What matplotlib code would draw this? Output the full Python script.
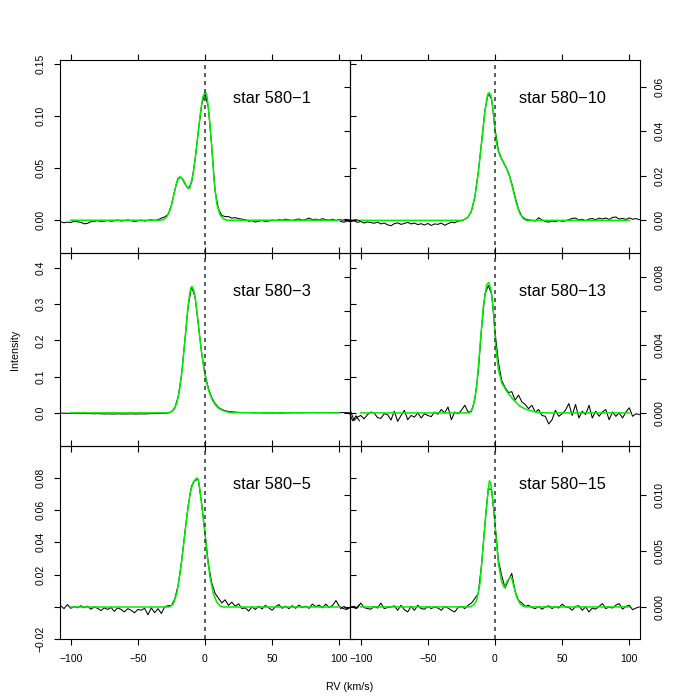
import numpy as np
import matplotlib
matplotlib.use('Agg')
import matplotlib.pyplot as plt

plt.rcParams['font.family'] = ['Liberation Sans', 'DejaVu Sans']

# Panel order: row by row (left column, right column)
star_names = ['star 580\u22121', 'star 580\u221210',
              'star 580\u22123', 'star 580\u221213',
              'star 580\u22125', 'star 580\u221215']

# Intensity units used in the lists below (values are multiplied by this)
units = [1e-3, 1e-3, 1e-2, 1e-4, 1e-3, 1e-4]

# RV grid of the observed profiles (km/s), 2.5 km/s steps
rv_left = np.arange(-107.5, 115.01, 2.5)
rv_right = np.arange(-115.0, 107.51, 2.5)

# ---- observed profiles (black) ----
obs_1 = [-1.5, -2.5, -1.8, -2.2, -1.0, -1.5, -2.0, -3.5, -3.0, -1.5,
         -1.0, -0.5, -1.2, -0.8, -0.3, -1.0, -0.6, 0.2, -0.8, -0.4,
         0.3, -0.5, -1.2, -0.6, 0.0, -0.8, -0.2, 0.4, -0.3, 0.5,
         2.0, 3.2, 5.5, 14.5, 29, 40.5, 41, 35, 30.5, 36,
         57, 85, 111, 122, 108, 71, 28, 11, 4.5, 3.5,
         3.5, 2.0, 2.5, 1.5, 1.0, 0.5, -1.0, -0.5, -1.8, -1.0,
         -0.3, -1.2, -0.8, 0.2, -0.5, 0.5, 0.0, 1.0, 0.3, -0.4,
         0.6, 1.2, 0.0, 0.8, 2.0, 0.5, 1.0, 0.2, 1.5, 0.5,
         0.0, 1.0, -0.3, 0.6, 0.0, 0.8, 0.3, 0.0, 0.5, -0.3]

obs_10 = [-0.5, -0.8, -0.3, -0.6, -0.2, -0.9, -0.5, -1.2, -0.7, -1.0,
          -1.3, -0.8, -1.6, -1.2, -2.0, -2.4, -1.5, -1.1, -1.8, -1.4,
          -0.9, -1.6, -1.2, -1.9, -1.5, -2.1, -1.4, -2.3, -1.6, -1.8,
          -1.2, -2.2, -1.5, -0.8, -1.1, -0.3, -0.2, 0.5, 1.5, 4.2,
          10.5, 21.5, 35, 49.5, 57, 54.5, 41, 31.5, 27.5, 24.5,
          21.5, 16.5, 10.5, 5.0, 1.8, 0.6, 0.2, 0.0, -0.3, 1.2,
          0.2, -0.5, -0.8, -0.3, -0.6, 0.0, -0.4, -0.2, 0.3, 0.9,
          1.0, 0.2, 0.5, -0.2, 0.6, 0.8, 0.3, 1.0, 0.6, 1.1,
          0.4, 1.3, 1.5, 0.6, 0.9, 0.4, 1.1, 0.5, 0.8, 0.3]

obs_3 = [-0.05, -0.1, -0.1, -0.15, -0.1, -0.15, -0.2, -0.15, -0.2, -0.2,
         -0.25, -0.2, -0.25, -0.3, -0.25, -0.3, -0.3, -0.25, -0.3, -0.3,
         -0.3, -0.25, -0.3, -0.3, -0.25, -0.3, -0.25, -0.2, -0.2, -0.15,
         -0.15, -0.1, -0.05, 0.3, 1.4, 4.4, 10.4, 19.9, 29.6, 34.8,
         32.1, 24.6, 16.5, 10.7, 6.8, 4.2, 2.6, 1.5, 0.95, 0.6,
         0.4, 0.3, 0.2, 0.15, 0.1, 0.1, 0.05, 0.05, 0.0, 0.05,
         0.0, -0.05, 0.0, -0.05, 0.0, -0.05, -0.05, 0.0, 0.0, 0.05,
         0.05, 0.0, 0.05, 0.1, 0.05, 0.1, 0.1, 0.05, 0.1, 0.1,
         0.1, 0.05, 0.1, 0.05, 0.1, 0.05, 0.05, -2.2, -0.8, -2.2]

obs_13 = [np.nan, np.nan, np.nan, 1.0, -4.5, -2.5, -1.5, -3.5, -1.0, 0.5,
          0.0, -2.8, -3.2, -0.5, -1.0, -4.2, 1.0, -5.0, -1.5, 1.5,
          -4.0, -1.5, -2.5, 0.0, -3.0, -0.5, -1.5, -2.2, 0.5, -0.8,
          2.0, 0.0, 3.5, -4.0, 0.5, -0.5, 1.5, 4.5, 0.5, 1.0,
          8, 24, 50, 70, 75, 70, 48, 30, 19, 15,
          12, 12.5, 7.5, 10.5, 6.5, 5.0, 2.5, 4.5, 0.5, 2.0,
          -1.5, -2.0, -6.5, -4.0, 1.5, -2.0, -0.5, 1.6, 5.5, -1.5,
          5.0, -3.0, 1.0, -1.0, 4.5, -3.0, 1.0, -2.0, 0.5, 2.0,
          -4.0, 0.5, -2.0, 0.0, -3.0, 0.5, 3.0, -2.0, -0.5, -1.0]

obs_5 = [0.8, -1.0, 1.5, -0.8, 0.3, -0.5, 0.8, -0.5, 0.5, -1.3,
         0.0, -0.8, -2.2, -0.5, -1.5, -0.3, -2.7, -0.5, -1.5, -3.0,
         -1.0, -2.0, -3.6, -1.5, -2.0, -0.8, -4.8, -0.5, -3.5, -1.0,
         -4.0, 0.2, 0.8, 1.0, 5.0, 13.5, 28, 46, 63, 75,
         78.5, 79, 64, 46, 27, 15, 8.5, 5.5, 2.5, 4.5,
         1.0, 3.0, 0.5, 2.0, -1.0, -0.5, -2.5, 0.0, -1.5, 0.5,
         -1.2, 1.0, -0.5, -2.0, 0.2, 1.5, -0.8, 0.5, -1.0, 0.8,
         -0.8, 1.2, -0.3, 0.5, -0.8, 1.8, 0.2, 1.2, -0.5, 1.8,
         -0.3, 1.0, 4.0, 0.5, -0.8, -1.5, -0.5, 0.0, -1.0, 1.5]

obs_15 = [-1.5, 0.5, -2.0, 0.0, 0.5, -1.0, 3.5, -0.5, -1.5, -2.0,
          0.5, -1.0, 3.5, -1.5, -0.5, 0.0, 1.0, -3.0, 1.5, -2.5,
          -4.5, 0.5, -3.0, 1.5, -1.5, -2.0, 0.5, -1.5, 0.0, -1.0,
          -3.0, 0.5, -1.0, -3.0, -4.5, -0.5, 0.5, -1.5, 1.5, 3.5,
          7.5, 12, 38, 74, 106, 105, 75, 42, 28, 17,
          24, 30, 14, 6, 3.5, 0.5, 1.5, -0.5, -1.5, 0.5,
          -2.0, 0.0, 1.0, -1.5, 0.5, -1.0, 2.5, 0.0, -0.5, -3.0,
          0.5, 1.0, -3.0, 0.0, -4.5, -1.0, -2.0, 0.5, 3.0, -1.5,
          0.0, -1.0, 1.5, 3.0, -2.0, 0.5, 1.5, -2.5, -1.0, 0.0]

# ---- fitted profiles (green) ----
fit_x_1 = [-100, -33, -31, -28.5, -26, -23.5, -21, -18.6, -16, -13.6, -11.5, -8.7, -6.2,
           -3.7, -1.7, 0.3, 1.5, 3.2, 5, 6.7, 8.7, 11.2, 13.6, 16, 100]
fit_y_1 = [0, 0, 0.6, 3.2, 9.7, 22.5, 37, 42, 38.5, 32, 30.3, 45, 71,
           100, 118, 123.5, 119, 100, 71, 39, 16, 5, 1.6, 0, 0]

fit_x_10 = [-100, -25, -22.5, -20, -17.5, -15, -12.5, -10, -7.5, -5.5, -4.2, -3, -1.5,
            0, 1, 2.5, 4, 6, 8.5, 11, 13.5, 16, 18.5, 21, 23.5, 100]
fit_y_10 = [0, 0, 0.5, 1.5, 4.5, 10.5, 21, 35, 49, 56.5, 57.3, 56, 50,
            41, 35, 31, 28.5, 26.5, 23.5, 19.5, 13.5, 7.5, 3, 0.8, 0, 0]

fit_x_3 = [-100, -28, -25, -23, -21, -19, -17, -15, -13, -11.5, -10.5, -9.7, -8.5, -7,
           -5.5, -4, -2.5, -1, 1, 3, 5, 7.5, 10, 13, 16, 20, 100]
fit_y_3 = [0, 0, 0.32, 1.0, 2.7, 6.2, 12.0, 19.9, 28.1, 32.7, 34.5, 34.9, 34.0, 31.2,
           26.3, 21.1, 16.5, 12.6, 8.6, 5.9, 3.9, 2.3, 1.3, 0.7, 0.3, 0.05, 0]

fit_x_13 = [-100, -19, -18.6, -16.1, -13.6, -11.2, -8.7, -6.2, -4.7, -3.2, -1.2,
            0.5, 2.5, 5, 8.7, 13.6, 18.6, 23.5, 31, 38, 100]
fit_y_13 = [0, 0, 0.3, 3.9, 15.6, 39, 62.7, 75.5, 76.8, 73.5, 61,
            39, 25.5, 17.6, 12.7, 7.8, 3.9, 2, 0.4, 0, 0]

fit_x_5 = [-100, -27, -26, -23.5, -21, -18.5, -16, -13.5, -11, -8.7, -6.2, -5,
           -3.7, -1.7, 0, 1.7, 3.7, 6.2, 8.7, 11.2, 13.6, 100]
fit_y_5 = [0, 0, 0.3, 2.1, 8.5, 21, 38, 56, 71, 77.4, 80, 79,
           72.3, 57.8, 45.4, 31, 18.6, 8.3, 3.1, 0.6, 0, 0]

fit_x_15 = [-100, -19, -16.1, -13.6, -11.2, -8.7, -6.2, -4.2, -3.2, -1.2, 0.7, 2.5,
            5, 7, 8.7, 11.2, 12.4, 14.1, 16.1, 18.6, 21.1, 23.5, 100]
fit_y_15 = [0, 0, 1.5, 6, 21, 56.5, 92, 113, 111, 92, 62.5, 39,
            22.3, 17.3, 22.3, 26.8, 26, 18, 9, 3, 0.6, 0, 0]

# ---- y axes ----
y_limits = [(-0.0316, 0.1539), (-0.0147, 0.072),
            (-0.092, 0.441), (-0.00196, 0.00941),
            (-0.02, 0.0996), (-0.0029, 0.0144)]
y_ticks = [[0, 0.05, 0.10, 0.15], [0, 0.02, 0.04, 0.06],
           [0, 0.1, 0.2, 0.3, 0.4], [0, 0.002, 0.004, 0.006, 0.008],
           [-0.02, 0, 0.02, 0.04, 0.06, 0.08], [0, 0.005, 0.010]]
y_ticklabels = [['0.00', '0.05', '0.10', '0.15'], ['0.00', '0.02', '0.04', '0.06'],
                ['0.0', '0.1', '0.2', '0.3', '0.4'], ['0.000', '', '0.004', '', '0.008'],
                ['\u22120.02', '', '0.02', '0.04', '0.06', '0.08'], ['0.000', '0.005', '0.010']]

x_ticks = [-100, -50, 0, 50, 100]

obs_all = [obs_1, obs_10, obs_3, obs_13, obs_5, obs_15]
fit_x_all = [fit_x_1, fit_x_10, fit_x_3, fit_x_13, fit_x_5, fit_x_15]
fit_y_all = [fit_y_1, fit_y_10, fit_y_3, fit_y_13, fit_y_5, fit_y_15]

fig = plt.figure(figsize=(7, 7), dpi=100)
gs = fig.add_gridspec(3, 2, left=60/700, right=640/700, bottom=1-639.3/700, top=1-60/700,
                      wspace=0, hspace=0)

for k in range(6):
    row, col = k // 2, k % 2
    ax = fig.add_subplot(gs[row, col])
    ax.set_facecolor('none')  # so neighbour ticks stay visible
    u = units[k]
    rv = rv_left if col == 0 else rv_right

    ax.plot(rv, np.array(obs_all[k]) * u, color='black', lw=0.75, clip_on=False)
    ax.plot(fit_x_all[k], np.array(fit_y_all[k]) * u, color='#00ee00', lw=1.1)
    ax.axvline(0, color='#444444', lw=1.2, ls=(0, (2.4, 2.4)))

    ax.set_xlim(-108, 108)
    ax.set_ylim(*y_limits[k])
    ax.set_xticks(x_ticks)
    ax.set_yticks(y_ticks[k])
    ax.set_yticklabels(y_ticklabels[k], rotation=90, va='center')

    ax.tick_params(axis='both', direction='out', length=4.3, width=0.8, labelsize=7.5, pad=6.3,
                   top=True, bottom=True, left=True, right=True,
                   labeltop=False, labelbottom=(row == 2),
                   labelleft=(col == 0), labelright=(col == 1))
    for sp in ax.spines.values():
        sp.set_linewidth(0.8)

    ax.text(50, 0.8, star_names[k], transform=ax.get_xaxis_transform(),
            ha='center', va='center', fontsize=11.8)

fig.text(15/700, 0.5, 'Intensity', rotation=90, ha='center', va='center', fontsize=7.7)
fig.text(0.5, 1-687/700, 'RV (km/s)', ha='center', va='center', fontsize=7.7)

fig.savefig('out.png', dpi=100)
